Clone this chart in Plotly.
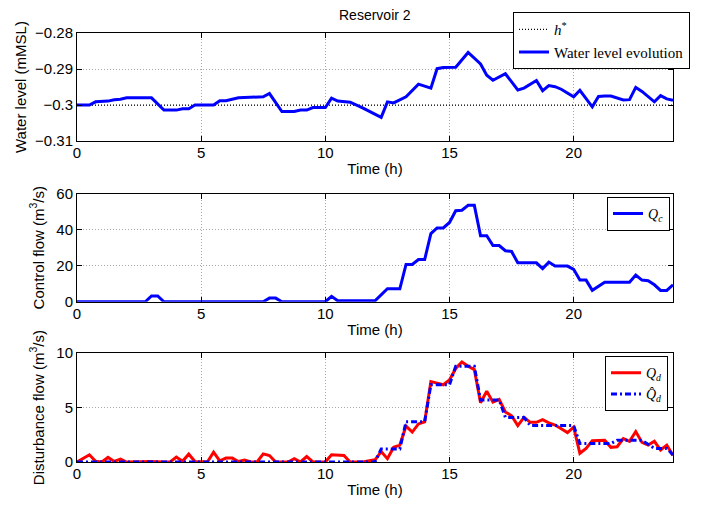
import plotly.graph_objects as go

# ---------------- data ----------------
t_w = [0, 0.5, 0.75, 1.25, 1.5, 1.75, 2.0, 3.0, 3.5, 4.0, 4.25, 4.5, 4.75, 5.5, 5.75, 6.0,
       6.5, 6.75, 7.0, 7.5, 7.75, 8.25, 8.75, 9.0, 9.25, 9.5, 10.0, 10.25, 10.5, 11.0, 11.5,
       12.0, 12.25, 12.5, 12.75, 13.25, 13.75, 14.25, 14.5, 14.75, 15.25, 15.75, 16.25, 16.5,
       16.75, 17.25, 17.75, 18.0, 18.5, 18.75, 19.0, 19.25, 19.5, 20.0, 20.25, 20.75, 21.0,
       21.25, 21.5, 22.0, 22.25, 22.5, 22.75, 23.25, 23.5, 23.75, 24.0]
h_w = [-0.3000, -0.3000, -0.2991, -0.2989, -0.2985, -0.2984, -0.2980, -0.2980, -0.3014, -0.3014,
       -0.3010, -0.3010, -0.3000, -0.3000, -0.2988, -0.2988, -0.2980, -0.2979, -0.2977, -0.2977,
       -0.2968, -0.3018, -0.3018, -0.3014, -0.3014, -0.3007, -0.3007, -0.2981, -0.2989, -0.2992,
       -0.3008, -0.3026, -0.3034, -0.2991, -0.2994, -0.2977, -0.2942, -0.2953, -0.2899, -0.2896,
       -0.2895, -0.2854, -0.2886, -0.2917, -0.2931, -0.2913, -0.2958, -0.2953, -0.2932, -0.2960,
       -0.2946, -0.2949, -0.2956, -0.2977, -0.2959, -0.3005, -0.2976, -0.2975, -0.2975, -0.2986,
       -0.2985, -0.2951, -0.2962, -0.2991, -0.2974, -0.2983, -0.2987]
h_star = -0.30

t_c = [0, 2.75, 3.0, 3.25, 3.5, 7.5, 7.75, 8.0, 8.25, 10.0, 10.25, 10.5, 12.0, 12.5, 13.0, 13.25,
       13.5, 13.75, 14.0, 14.25, 14.5, 14.75, 15.0, 15.25, 15.5, 15.75, 16.0, 16.25, 16.5, 16.75,
       17.0, 17.25, 17.5, 17.75, 18.5, 18.75, 19.0, 19.25, 19.75, 20.0, 20.25, 20.5, 20.75, 21.25,
       22.25, 22.5, 22.75, 23.0, 23.25, 23.5, 23.75, 24.0]
q_c = [0, 0, 3.2, 3.2, 0, 0, 2.0, 2.0, 0, 0, 3.0, 0.5, 0.5, 7.2, 7.2, 20.7,
       20.7, 23.4, 23.4, 37.8, 41.0, 41.0, 44.0, 50.5, 50.8, 53.5, 53.5, 36.6, 36.6, 31.2,
       31.2, 28.3, 27.9, 21.6, 21.6, 18.4, 22.0, 19.8, 19.8, 18.0, 12.0, 12.0, 6.3, 10.8,
       10.8, 14.8, 12.0, 11.7, 9.4, 6.3, 6.3, 9.4]

t_d = [0, 0.5, 0.75, 1.0, 1.25, 1.5, 1.75, 2.0, 2.5, 3.0, 3.5, 3.75, 4.0, 4.25, 4.5, 4.75, 5.25,
       5.5, 5.75, 6.0, 6.25, 6.5, 6.75, 7.0, 7.25, 7.5, 7.75, 8.0, 8.5, 8.75, 9.0, 9.25, 9.5,
       10.0, 10.25, 10.75, 11.0, 11.5, 12.0, 12.25, 12.5, 12.75, 13.0, 13.25, 13.5, 13.75, 14.0,
       14.25, 14.5, 14.75, 15.0, 15.25, 15.5, 15.75, 16.0, 16.25, 16.5, 16.75, 17.0, 17.25, 17.5,
       17.75, 18.0, 18.25, 18.5, 18.75, 19.0, 19.25, 19.5, 19.75, 20.0, 20.25, 20.5, 20.75, 21.25,
       21.5, 21.75, 22.0, 22.25, 22.5, 22.75, 23.0, 23.25, 23.5, 23.75, 24.0]
q_d = [0, 0.66, 0.06, 0, 0.42, 0.05, 0.27, 0, 0.02, 0.05, 0, 0, 0.45, 0.06, 0.72, 0.05, 0,
       0.9, 0.1, 0.36, 0.36, 0.05, 0.18, 0, 0, 0.75, 0.6, 0, 0, 0.3, 0, 0.5, 0,
       0, 0.66, 0.6, 0, 0, 0.2, 0.96, 0.3, 1.35, 1.56, 3.3, 2.75, 3.5, 3.7,
       7.4, 7.25, 7.1, 7.55, 8.6, 9.2, 8.8, 8.5, 5.45, 6.5, 5.5, 5.75, 4.6, 4.25,
       3.35, 4.1, 3.65, 3.65, 3.9, 3.6, 3.4, 3.05, 2.7, 3.2, 0.8, 1.25, 1.95, 2.0,
       1.35, 1.4, 2.15, 1.9, 2.8, 1.8, 1.55, 1.9, 1.1, 1.55, 0.6]

t_e = [0, 12.0, 12.25, 13.0, 13.25, 14.0, 14.25, 15.0, 15.25, 16.0, 16.25, 17.0, 17.25, 18.0,
       18.25, 20.0, 20.25, 21.5, 21.75, 22.75, 23.25, 23.75, 24.0]
q_e = [0, 0, 1.2, 1.2, 3.7, 3.7, 7.1, 7.1, 8.8, 8.8, 5.7, 5.7, 4.1, 4.1,
       3.35, 3.35, 1.7, 1.7, 2.0, 2.0, 1.25, 1.25, 0.65]

x_ticks = [0, 5, 10, 15, 20]
y1_ticks = [-0.31, -0.30, -0.29, -0.28]
y1_text = ["\u22120.31", "\u22120.3", "\u22120.29", "\u22120.28"]
y2_ticks = [0, 20, 40, 60]
y3_ticks = [0, 5, 10]

# ---------------- figure ----------------
BLUE = "rgb(0,0,255)"
RED = "rgb(255,0,0)"
SANS = "Liberation Sans, Arial, sans-serif"
SERIF = "Liberation Serif, Times New Roman, serif"
LEG_FS = 14

fig = go.Figure()
fig.add_trace(go.Scatter(x=[0, 24], y=[h_star, h_star], mode="lines",
                         line=dict(color="black", width=1.2, dash="1px,2px"),
                         name="<i>h</i><sup>*</sup>", xaxis="x", yaxis="y", legend="legend"))
fig.add_trace(go.Scatter(x=t_w, y=h_w, mode="lines", line=dict(color=BLUE, width=3),
                         name="Water level evolution", xaxis="x", yaxis="y", legend="legend"))
fig.add_trace(go.Scatter(x=t_c, y=q_c, mode="lines", line=dict(color=BLUE, width=3),
                         name="<i>Q</i><sub><i>c</i></sub>", xaxis="x2", yaxis="y2", legend="legend2"))
fig.add_trace(go.Scatter(x=t_d, y=q_d, mode="lines", line=dict(color=RED, width=3),
                         name="<i>Q</i><sub><i>d</i></sub>", xaxis="x3", yaxis="y3", legend="legend3"))
fig.add_trace(go.Scatter(x=t_e, y=q_e, mode="lines",
                         line=dict(color=BLUE, width=3, dash="6px,3px,2px,3px"),
                         name="<i>Q\u0302</i><sub><i>d</i></sub>", xaxis="x3", yaxis="y3", legend="legend3"))

axis_common = dict(showline=True, linecolor="black", linewidth=1, mirror="ticks",
                   ticks="inside", ticklen=5, tickcolor="black", showgrid=True,
                   gridcolor="#a8a8a8", griddash="1px,2px", gridwidth=1, zeroline=False,
                   tickfont=dict(family=SANS, size=15, color="black"))

def xax(anchor):
    return dict(axis_common, range=[0, 24], tickvals=x_ticks, anchor=anchor,
                ticklabelstandoff=-2,
                title=dict(text="Time (h)", font=dict(family=SANS, size=15, color="black"), standoff=3))

dom1 = [0.748, 1.0]
dom2 = [0.3736, 0.6255]
dom3 = [0.0, 0.2535]

leg_common = dict(xanchor="right", yanchor="top", bgcolor="white", bordercolor="black",
                  borderwidth=1, itemwidth=30, tracegroupgap=0,
                  font=dict(family=SERIF, size=LEG_FS, color="black"))

fig.update_layout(
    width=705, height=508,
    margin=dict(l=77, r=32, t=28, b=41),
    paper_bgcolor="white", plot_bgcolor="white",
    showlegend=True,
    xaxis=dict(xax("y")),
    xaxis2=dict(xax("y2")),
    xaxis3=dict(xax("y3")),
    yaxis=dict(axis_common, domain=dom1, anchor="x", range=[-0.31, -0.28],
               tickvals=y1_ticks, ticktext=y1_text,
               title=dict(text="Water level (mMSL)", font=dict(family=SANS, size=15, color="black"), standoff=4)),
    yaxis2=dict(axis_common, domain=dom2, anchor="x2", range=[0, 60], tickvals=y2_ticks,
                title=dict(text="Control flow (m<sup>3</sup>/s)", font=dict(family=SANS, size=15, color="black"), standoff=8)),
    yaxis3=dict(axis_common, domain=dom3, anchor="x3", range=[0, 10], tickvals=y3_ticks,
                title=dict(text="Disturbance flow (m<sup>3</sup>/s)", font=dict(family=SANS, size=15, color="black"), standoff=8)),
    legend=dict(leg_common, x=1.0285, y=1.0485, font=dict(family=SERIF, size=15, color="black")),
    legend2=dict(leg_common, x=0.995, y=0.618),
    legend3=dict(leg_common, x=0.9916, y=0.2467),
    annotations=[dict(text="Reservoir 2", x=0.5, y=1.0417, xref="paper", yref="paper",
                      xanchor="center", yanchor="middle", showarrow=False,
                      font=dict(family=SANS, size=14, color="black"))],
)

fig.write_html("out.html")
